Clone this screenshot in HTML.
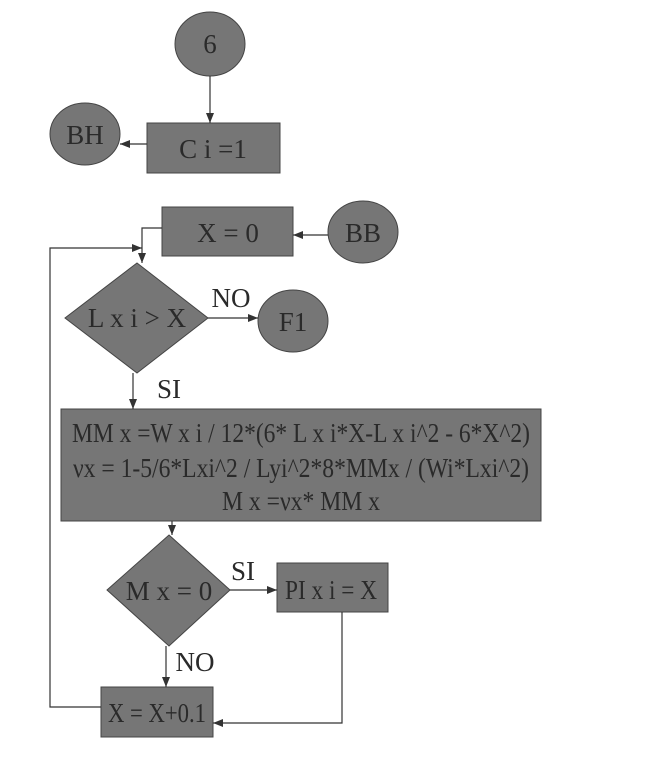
<!DOCTYPE html>
<html><head><style>
html,body{margin:0;padding:0;background:#fff;}
svg{display:block;}
text{font-family:"Liberation Serif","Times New Roman","DejaVu Serif",serif;fill:#2a2a2a;}
</style></head><body>
<svg width="669" height="775" viewBox="0 0 669 775" xmlns="http://www.w3.org/2000/svg">
<defs><marker id="a" viewBox="0 0 10 10" refX="10" refY="5" markerWidth="10" markerHeight="10" markerUnits="userSpaceOnUse" orient="auto"><path d="M0,1 L10,5 L0,9 z" fill="#333"/></marker></defs>
<g fill="#767676" stroke="#444" stroke-width="1">
<ellipse cx="210" cy="44" rx="35" ry="32"/>
<rect x="147" y="123" width="133" height="50"/>
<ellipse cx="85" cy="134" rx="35" ry="31"/>
<rect x="162" y="207" width="131" height="49"/>
<ellipse cx="363" cy="232" rx="35" ry="31"/>
<polygon points="137,263 208,318 137,373 65,318"/>
<ellipse cx="293" cy="321" rx="35" ry="31"/>
<rect x="61" y="409" width="480" height="112"/>
<polygon points="169,535 230,590 169,646 107,590"/>
<rect x="277" y="563" width="111" height="49"/>
<rect x="101" y="687" width="112" height="50"/>
</g>
<g stroke="#333" stroke-width="1.2" fill="none">
<line x1="210" y1="76" x2="210" y2="123" marker-end="url(#a)"/>
<line x1="147" y1="144" x2="120" y2="144" marker-end="url(#a)"/>
<line x1="328" y1="235" x2="293" y2="235" marker-end="url(#a)"/>
<polyline points="162,228 142,228 142,263" marker-end="url(#a)"/>
<polyline points="101,707 50,707 50,248 142,248" marker-end="url(#a)"/>
<line x1="208" y1="318" x2="258" y2="318" marker-end="url(#a)"/>
<line x1="133" y1="373" x2="133" y2="409" marker-end="url(#a)"/>
<line x1="172" y1="521" x2="172" y2="535" marker-end="url(#a)"/>
<line x1="230" y1="590" x2="277" y2="590" marker-end="url(#a)"/>
<line x1="166" y1="646" x2="166" y2="687" marker-end="url(#a)"/>
<polyline points="342,612 342,723 213,723" marker-end="url(#a)"/>
</g>
<g font-size="27" text-anchor="middle" font-family="Liberation Serif, serif">
<text x="210" y="53">6</text>
<text x="213" y="158">C i =1</text>
<text x="85" y="144">BH</text>
<text x="228" y="242">X = 0</text>
<text x="363" y="242">BB</text>
<text x="137" y="327">L x i &gt; X</text>
<text x="293" y="331">F1</text>
<text x="231" y="307">NO</text>
<text x="169" y="398">SI</text>
<text x="301" y="442" textLength="458" lengthAdjust="spacingAndGlyphs">MM x =W x i / 12*(6* L x i*X-L x i^2 - 6*X^2)</text>
<text x="301" y="477" textLength="456" lengthAdjust="spacingAndGlyphs">νx = 1-5/6*Lxi^2 / Lyi^2*8*MMx / (Wi*Lxi^2)</text>
<text x="301" y="510" textLength="158" lengthAdjust="spacingAndGlyphs">M x =νx* MM x</text>
<text x="169" y="600">M x = 0</text>
<text x="243" y="580">SI</text>
<text x="331" y="599" textLength="92" lengthAdjust="spacingAndGlyphs">PI x i = X</text>
<text x="195" y="671">NO</text>
<text x="157" y="722" textLength="98" lengthAdjust="spacingAndGlyphs">X = X+0.1</text>
</g>
</svg>
</body></html>
